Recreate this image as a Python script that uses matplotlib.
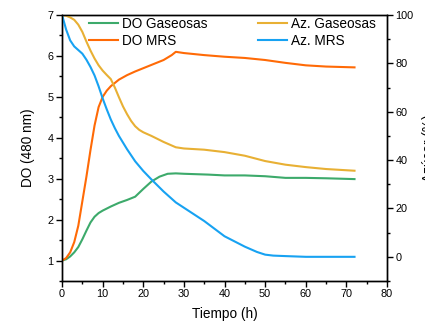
import matplotlib
matplotlib.use("Agg")
import matplotlib.pyplot as plt
from matplotlib.ticker import MultipleLocator

plt.rcParams['font.family'] = ['Liberation Sans', 'DejaVu Sans']

# DO (480 nm), left axis
t_do_gas = [0, 1, 2, 3, 4, 5, 6, 7, 8, 9, 10, 12, 14, 16, 18, 20, 22, 24, 26, 28, 30,
            33, 36, 40, 45, 50, 55, 60, 65, 72]
do_gas = [1.0, 1.03, 1.1, 1.2, 1.33, 1.52, 1.73, 1.93, 2.07, 2.16, 2.22, 2.32, 2.41,
          2.48, 2.56, 2.75, 2.93, 3.05, 3.12, 3.13, 3.12, 3.11, 3.1, 3.08, 3.08, 3.06,
          3.02, 3.02, 3.01, 2.99]

t_do_mrs = [0, 1, 2, 3, 4, 5, 6, 7, 8, 9, 10, 11, 12, 14, 16, 18, 20, 22, 25, 27, 28,
            30, 35, 40, 45, 50, 55, 60, 65, 72]
do_mrs = [1.0, 1.06, 1.2, 1.45, 1.85, 2.45, 3.05, 3.7, 4.3, 4.75, 5.0, 5.15, 5.26,
          5.42, 5.53, 5.62, 5.7, 5.78, 5.9, 6.02, 6.1, 6.07, 6.02, 5.98, 5.95, 5.9,
          5.83, 5.77, 5.74, 5.72]

# Azucar (%), right axis
t_az_gas = [0, 1, 2, 3, 4, 5, 6, 7, 8, 9, 10, 11, 12, 13, 14, 15, 16, 17, 18, 19, 20,
            22, 25, 28, 30, 35, 40, 45, 50, 55, 60, 65, 72]
az_gas = [100, 99.7, 99, 98, 96, 93, 89, 85.3, 82, 79.2, 77, 75.2, 73.5, 70, 66,
          62.2, 59, 56.2, 54, 52.5, 51.5, 50, 47.5, 45.3, 44.8, 44.3, 43.3, 41.8,
          39.6, 38.1, 37.1, 36.3, 35.6]

t_az_mrs = [0, 1, 2, 3, 4, 5, 6, 7, 8, 9, 10, 11, 12, 13, 14, 16, 18, 20, 22, 25, 28,
            30, 35, 40, 45, 48, 50, 52, 55, 60, 72]
az_mrs = [100, 94, 89.5, 87, 85.5, 84, 81.5, 78.5, 75, 70.5, 65.5, 61, 56.8, 53.2,
          50, 44.5, 39.5, 35.5, 32, 27, 22.5, 20.3, 14.8, 8.5, 4.2, 2.0, 0.9, 0.5,
          0.3, 0.0, 0.0]

fig = plt.figure(figsize=(4.25, 3.21), dpi=100)
ax = fig.add_axes([0.146, 0.1246, 0.7646, 0.8287])
ax2 = ax.twinx()

l1, = ax.plot(t_do_gas, do_gas, color='#3daa6b', lw=1.5, label='DO Gaseosas')
l2, = ax.plot(t_do_mrs, do_mrs, color='#ff6a06', lw=1.5, label='DO MRS')
l3, = ax2.plot(t_az_gas, az_gas, color='#e8b034', lw=1.5, label='Az. Gaseosas')
l4, = ax2.plot(t_az_mrs, az_mrs, color='#17a2f2', lw=1.5, label='Az. MRS')

ax.set_xlim(0, 80)
ax.set_ylim(0.5, 7)
ax2.set_ylim(-10, 100)

ax.xaxis.set_major_locator(MultipleLocator(10))
ax.xaxis.set_minor_locator(MultipleLocator(5))
ax.yaxis.set_major_locator(MultipleLocator(1))
ax.yaxis.set_minor_locator(MultipleLocator(0.5))
ax2.yaxis.set_major_locator(MultipleLocator(20))
ax2.yaxis.set_minor_locator(MultipleLocator(10))

for a in (ax, ax2):
    a.tick_params(which='major', direction='out', length=4, width=1, labelsize=7.8, pad=2)
    a.tick_params(which='minor', direction='out', length=2.5, width=1)
    for s in a.spines.values():
        s.set_linewidth(1)
ax.tick_params(axis='x', which='both', top=False)

ax.set_xlabel('Tiempo (h)', fontsize=9.8, labelpad=5.5)
ax.set_ylabel('DO (480 nm)', fontsize=9.8, labelpad=9)
ax2.set_ylabel('Azúcar (%)', fontsize=9.8, labelpad=6)

leg_kw = dict(loc='upper left', frameon=False, fontsize=9.8, handlelength=2.15,
              handletextpad=0.3, labelspacing=0.2, borderaxespad=0, borderpad=0.1)
leg1 = ax2.legend(handles=[l1, l2], bbox_to_anchor=(0.078, 0.998), **leg_kw)
ax2.add_artist(leg1)
ax2.legend(handles=[l3, l4], bbox_to_anchor=(0.598, 0.998), **leg_kw)

fig.savefig('out.png', dpi=100)
